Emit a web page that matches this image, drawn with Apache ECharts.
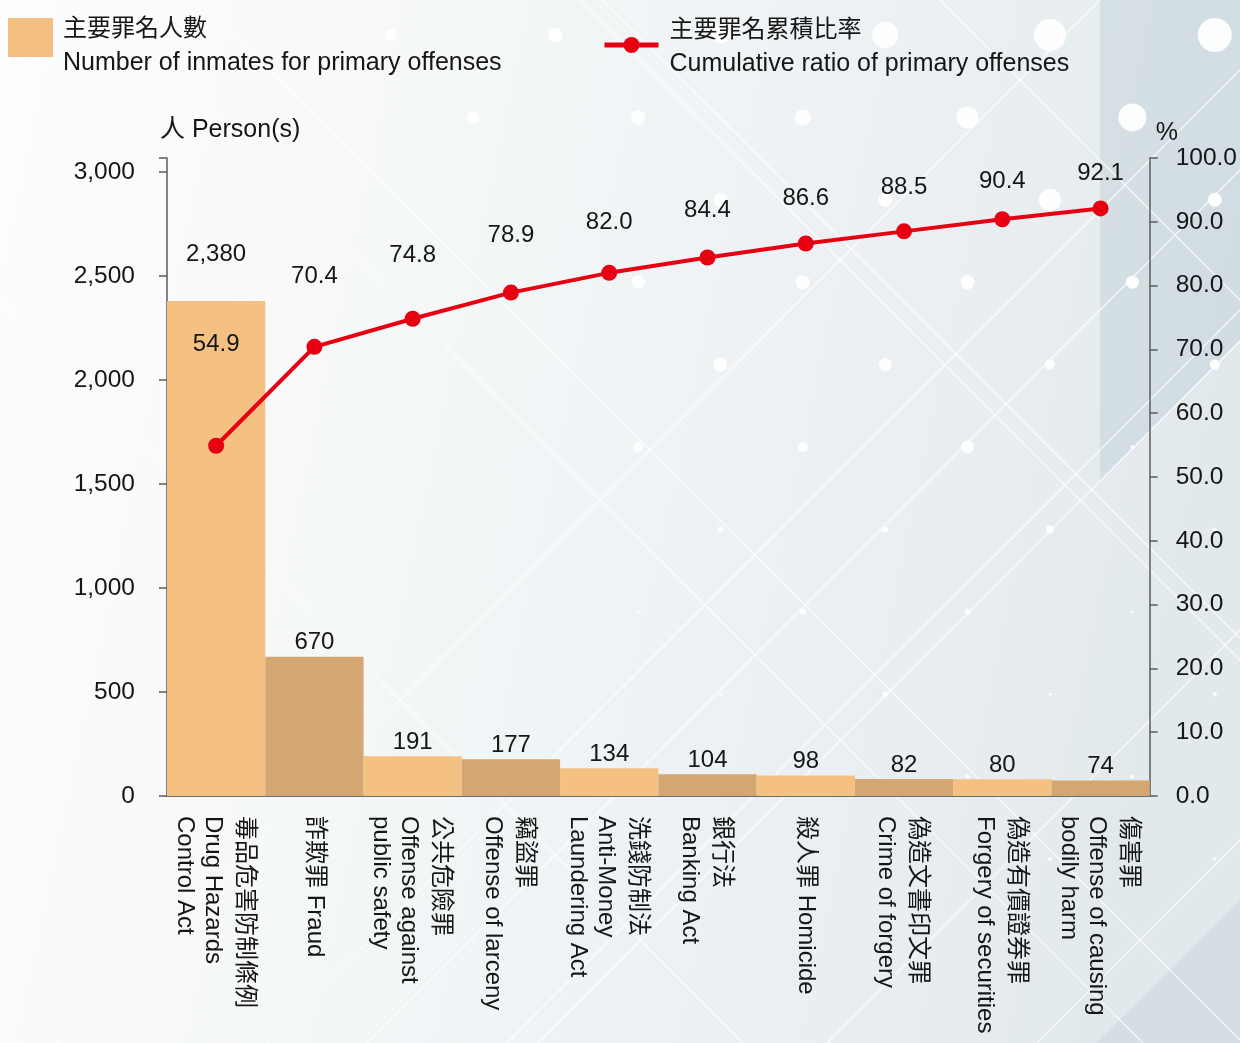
<!DOCTYPE html>
<html>
<head>
<meta charset="utf-8">
<script src="https://cdn.jsdelivr.net/npm/echarts@6/dist/echarts.min.js"></script>
<style>
  html, body { margin: 0; padding: 0; background: #ffffff; }
  #chart { width: 1240px; height: 1043px; }
</style>
</head>
<body>
<div id="chart"></div>
<script>
// ---- data ----
const categoryLines = [
  ['毒品危害防制條例', 'Drug Hazards', 'Control Act'],
  ['詐欺罪 Fraud'],
  ['公共危險罪', 'Offense against', 'public safety'],
  ['竊盜罪', 'Offense of larceny'],
  ['洗錢防制法', 'Anti-Money', 'Laundering Act'],
  ['銀行法', 'Banking Act'],
  ['殺人罪 Homicide'],
  ['偽造文書印文罪', 'Crime of forgery'],
  ['偽造有價證券罪', 'Forgery of securities'],
  ['傷害罪', 'Offense of causing', 'bodily harm']
];
const inmates = [2380, 670, 191, 177, 134, 104, 98, 82, 80, 74];
const cumulativeRatio = [54.9, 70.4, 74.8, 78.9, 82.0, 84.4, 86.6, 88.5, 90.4, 92.1];
const personTicks = [0, 500, 1000, 1500, 2000, 2500, 3000];
const percentTicks = [0, 10, 20, 30, 40, 50, 60, 70, 80, 90, 100];
const barSeriesName = ['主要罪名人數', 'Number of inmates for primary offenses'];
const lineSeriesName = ['主要罪名累積比率', 'Cumulative ratio of primary offenses'];

// ---- styling ----
const FONT = "'Liberation Sans', Arial, 'Noto Sans CJK TC', sans-serif";
const TEXT = '#161616';
const AXIS = '#5b5b5b';
const BAR_LIGHT = '#F5C183';
const BAR_DARK = '#D4A672';
const RED = '#E60012';
// label lift above each cumulative point (px)
const ratioLabelGap = [81, 50, 43, 37, 30, 27, 25, 24, 18, 15];

// ---- decorative backdrop ----
const W = 1240, H = 1043;
const bg = [];
bg.push({
  type: 'rect', z: -100, silent: true,
  shape: { x: 0, y: 0, width: W, height: H },
  style: {
    fill: new echarts.graphic.LinearGradient(0, 0, 1, 0.25, [
      { offset: 0, color: '#fdfdfe' },
      { offset: 0.45, color: '#f3f6f7' },
      { offset: 0.85, color: '#e8edf0' },
      { offset: 1, color: '#e2e9ec' }
    ])
  }
});
bg.push({
  type: 'polygon', z: -99, silent: true,
  shape: { points: [[1100, 0], [W, 0], [W, 340], [1100, 481]] },
  style: { fill: 'rgba(175,195,204,0.32)' }
});
bg.push({
  type: 'polygon', z: -99, silent: true,
  shape: { points: [[W, 900], [W, H], [1096, H]] },
  style: { fill: 'rgba(175,195,204,0.28)' }
});
// diagonal strokes: x - y = c  and  x + y = c
[-300, 100, 200, 580, 602, 940].forEach(c => {
  bg.push({ type: 'line', z: -98, silent: true,
    shape: { x1: c - 200, y1: -200, x2: c + 1400, y2: 1400 },
    style: { stroke: 'rgba(255,255,255,0.75)', lineWidth: 1.3 } });
});
[1100, 1310, 1410, 1550, 1581, 1870, 2080].forEach(c => {
  bg.push({ type: 'line', z: -98, silent: true,
    shape: { x1: c + 200, y1: -200, x2: c - 1400, y2: 1400 },
    style: { stroke: 'rgba(255,255,255,0.75)', lineWidth: 1.3 } });
});
// halftone dots on a staggered lattice
const dotStep = 82.4, dotX0 = 638, dotY0 = 35;
const dotKStart = [-3, -2, 1, 0, 1, 0, 1, 0, 1, 0, 1];
const dotRadii = [
  [6, 7, 9, 13, 16, 17],
  [6, 7, 8, 11, 14],
  [7, 7, 11, 7],
  [6.5, 7, 7, 6.5],
  [7, 6.5, 5, 5],
  [5, 5, 6.5, 2],
  [3, 3, 4, 2],
  [1.5, 3, 3, 1.5],
  [1.5, 3, 1.5, 2],
  [1, 1.5, 2, 2],
  [1, 1, 2, 1.5]
];
dotRadii.forEach((row, r) => {
  row.forEach((rad, j) => {
    const k = dotKStart[r] + 2 * j;
    bg.push({ type: 'circle', z: -97, silent: true,
      shape: { cx: dotX0 + dotStep * k, cy: dotY0 + dotStep * r, r: rad },
      style: { fill: 'rgba(255,255,255,0.92)' } });
  });
});

// ---- chart ----
const chart = echarts.init(document.getElementById('chart'), null, { renderer: 'canvas' });

function legendText(name) {
  const parts = name.split('\n');
  return '{zh|' + parts[0] + '}\n{en|' + parts[1] + '}';
}
const legendRich = {
  zh: { fontSize: 24, lineHeight: 34, color: TEXT, fontFamily: FONT },
  en: { fontSize: 25, lineHeight: 34, color: TEXT, fontFamily: FONT }
};

const option = {
  animation: false,
  textStyle: { fontFamily: FONT, color: TEXT },
  graphic: { elements: bg },
  legend: [
    {
      data: [{ name: barSeriesName.join('\n'), icon: 'rect' }],
      left: 8, top: 17, padding: 0,
      itemWidth: 45, itemHeight: 39,
      selectedMode: false,
      formatter: legendText,
      textStyle: { padding: [17, 0, 0, 5], rich: legendRich }
    },
    {
      data: [lineSeriesName.join('\n')],
      left: 602, top: 18, padding: 0,
      itemWidth: 54, itemHeight: 20,
      selectedMode: false,
      formatter: legendText,
      lineStyle: { width: 5 },
      textStyle: { padding: [4, 0, 0, 6], rich: legendRich }
    }
  ],
  grid: { left: 167, right: 89, top: 158, bottom: 247 },
  xAxis: {
    type: 'category',
    data: categoryLines.map(l => l.join('\n')),
    boundaryGap: true,
    axisLine: { lineStyle: { color: '#6e6e6e', width: 2 } },
    axisTick: { show: false },
    axisLabel: {
      interval: 0,
      rotate: -90,
      margin: 20,
      color: TEXT,
      formatter: v => {
        const lines = v.split('\n');
        return lines.map((t, i) => (i === 0 ? '{zh|' : '{en|') + t + '}').join('\n');
      },
      rich: {
        zh: { fontSize: 24, lineHeight: 36, color: TEXT, fontFamily: FONT },
        en: { fontSize: 24, lineHeight: 28, color: TEXT, fontFamily: FONT }
      }
    }
  },
  yAxis: [
    {
      type: 'value',
      position: 'left',
      min: personTicks[0],
      // headroom above the 3,000 tick so the axis line runs a little higher
      max: 3067,
      interval: personTicks[1] - personTicks[0],
      name: '人 Person(s)',
      nameLocation: 'end',
      nameGap: 28,
      nameTextStyle: { fontSize: 25, color: TEXT, align: 'left', verticalAlign: 'middle', padding: [0, 0, 0, -7] },
      axisLine: { show: true, lineStyle: { color: AXIS, width: 1.5 } },
      axisTick: { show: true, length: 8, lineStyle: { color: AXIS, width: 1.5 } },
      splitLine: { show: false },
      axisLabel: {
        margin: 32, fontSize: 24.5, color: TEXT,
        formatter: v => personTicks.includes(v) ? v.toLocaleString('en-US') : ''
      }
    },
    {
      type: 'value',
      position: 'right',
      min: percentTicks[0],
      max: percentTicks[percentTicks.length - 1],
      interval: percentTicks[1] - percentTicks[0],
      name: '%',
      nameLocation: 'end',
      nameGap: 23,
      nameTextStyle: { fontSize: 25, color: TEXT, align: 'left', verticalAlign: 'middle', padding: [0, 0, 0, 6] },
      axisLine: { show: true, lineStyle: { color: AXIS, width: 1.5 } },
      axisTick: { show: true, length: 8, lineStyle: { color: AXIS, width: 1.5 } },
      splitLine: { show: false },
      axisLabel: {
        margin: 26, fontSize: 24.5, color: TEXT,
        formatter: v => v.toFixed(1)
      }
    }
  ],
  series: [
    {
      name: barSeriesName.join('\n'),
      type: 'bar',
      yAxisIndex: 0,
      barCategoryGap: '0%',
      itemStyle: { color: BAR_LIGHT },
      data: inmates.map((v, i) => ({
        value: v,
        itemStyle: { color: i % 2 ? BAR_DARK : BAR_LIGHT },
        label: { distance: i === 0 ? 35 : 2 }
      })),
      label: {
        show: true, position: 'top', fontSize: 24, color: TEXT,
        formatter: p => p.value.toLocaleString('en-US')
      },
      z: 2
    },
    {
      name: lineSeriesName.join('\n'),
      type: 'line',
      yAxisIndex: 1,
      symbol: 'circle',
      symbolSize: 16,
      lineStyle: { color: RED, width: 4 },
      itemStyle: { color: RED },
      data: cumulativeRatio.map((v, i) => ({
        value: v,
        label: { distance: ratioLabelGap[i] }
      })),
      label: {
        show: true, position: 'top', fontSize: 24, color: TEXT,
        formatter: p => p.value.toFixed(1)
      },
      z: 3
    }
  ]
};

chart.setOption(option);
</script>
</body>
</html>
